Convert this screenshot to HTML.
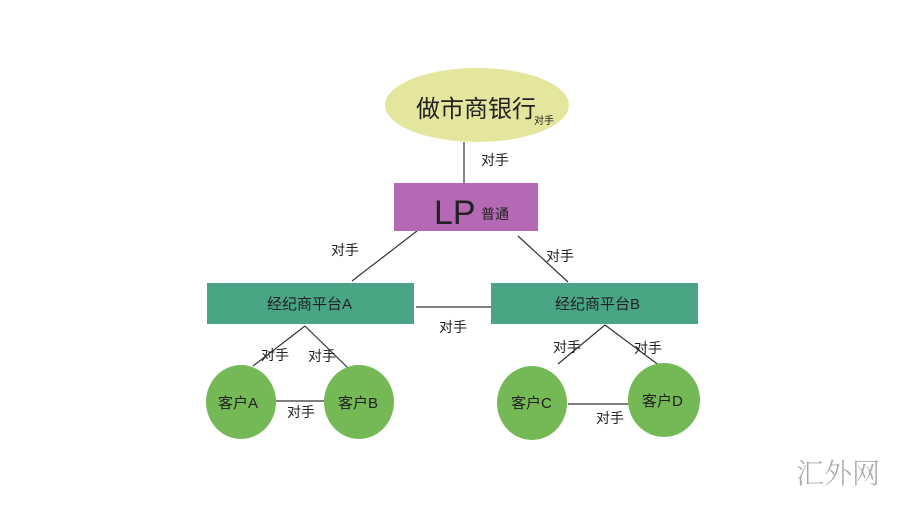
<!DOCTYPE html>
<html><head><meta charset="utf-8"><style>
body{margin:0;background:#fff;width:900px;height:500px;overflow:hidden}
svg text{font-family:"Liberation Sans","Noto Sans CJK SC",sans-serif;fill:#222}
</style></head><body>
<svg width="900" height="500" viewBox="0 0 900 500">
<g stroke="#333" stroke-width="1.2" fill="none">
<line x1="464" y1="142" x2="464" y2="183"/>
<line x1="417" y1="231" x2="352" y2="281"/>
<line x1="518" y1="236" x2="568" y2="282"/>
<line x1="416" y1="307" x2="491" y2="307"/>
<line x1="305" y1="326" x2="253" y2="366"/>
<line x1="305" y1="326" x2="348" y2="368"/>
<line x1="605" y1="325" x2="558" y2="364"/>
<line x1="605" y1="325" x2="660" y2="366"/>
<line x1="276" y1="401" x2="324" y2="401"/>
<line x1="568" y1="404" x2="629" y2="404"/>
</g>
<ellipse cx="477" cy="105" rx="92" ry="37" fill="#e4e69e"/>
<rect x="394" y="183" width="144" height="48" fill="#b569b5"/>
<rect x="207" y="283" width="207" height="41" fill="#4aa584"/>
<rect x="491" y="283" width="207" height="41" fill="#4aa584"/>
<g fill="#74b956">
<ellipse cx="241" cy="402" rx="35" ry="37"/>
<ellipse cx="359" cy="402" rx="35" ry="37"/>
<ellipse cx="532" cy="403" rx="35" ry="37"/>
<ellipse cx="664" cy="400" rx="36" ry="37"/>
</g>
<text x="416" y="117" font-size="24">做市商银行</text>
<text x="534" y="124" font-size="10">对手</text>
<text x="434" y="224" font-size="34" fill="#333">LP</text>
<text x="481" y="219" font-size="14">普通</text>
<text x="481" y="165" font-size="14">对手</text>
<text x="331" y="255" font-size="14">对手</text>
<text x="546" y="261" font-size="14">对手</text>
<text x="267" y="309" font-size="15">经纪商平台A</text>
<text x="555" y="309" font-size="15">经纪商平台B</text>
<text x="439" y="332" font-size="14">对手</text>
<text x="261" y="360" font-size="14">对手</text>
<text x="308" y="361" font-size="14">对手</text>
<text x="553" y="352" font-size="14">对手</text>
<text x="634" y="353" font-size="14">对手</text>
<text x="218" y="408" font-size="15">客户A</text>
<text x="338" y="408" font-size="15">客户B</text>
<text x="287" y="417" font-size="14">对手</text>
<text x="511" y="408" font-size="15">客户C</text>
<text x="642" y="406" font-size="15">客户D</text>
<text x="596" y="423" font-size="14">对手</text>
<text x="796" y="483" font-size="28" style="fill:#aaa;font-family:'Noto Serif CJK SC',serif;font-weight:300">汇外网</text>
</svg>
</body></html>
